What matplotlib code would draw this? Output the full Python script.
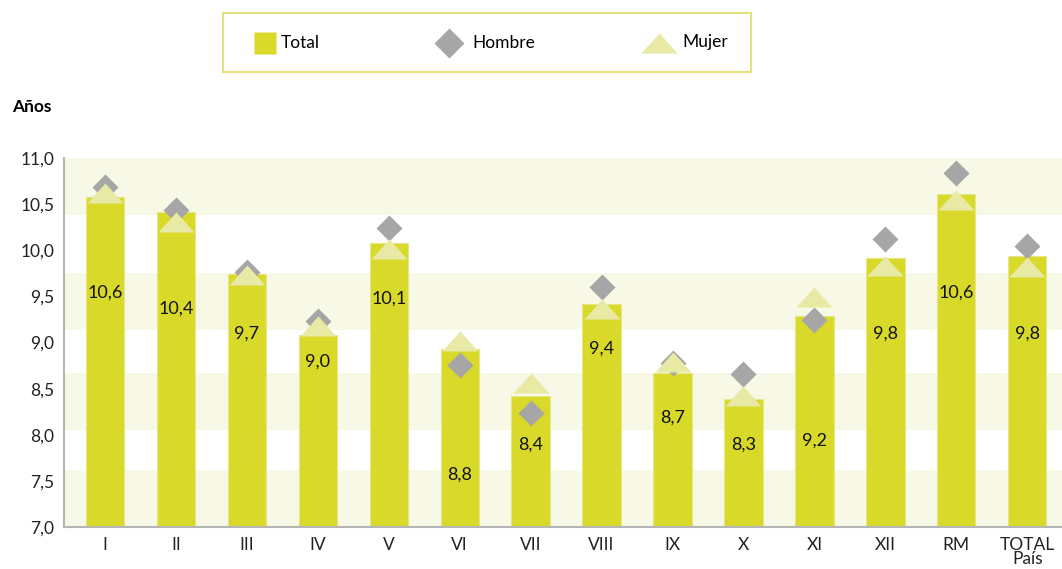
import numpy as np
import matplotlib.pyplot as plt
from matplotlib.lines import Line2D

plt.rcParams['font.family'] = ['Lato', 'DejaVu Sans']

regions = ['I', 'II', 'III', 'IV', 'V', 'VI', 'VII', 'VIII', 'IX', 'X', 'XI', 'XII', 'RM', 'TOTAL\nPaís']
total = [10.58, 10.41, 9.74, 9.08, 10.08, 8.93, 8.42, 9.42, 8.67, 8.39, 9.29, 9.92, 10.61, 9.94]
total_labels = [10.6, 10.4, 9.7, 9.0, 10.1, 8.8, 8.4, 9.4, 8.7, 8.3, 9.2, 9.8, 10.6, 9.8]
hombre = [10.69, 10.44, 9.76, 9.23, 10.24, 8.76, 8.24, 9.60, 8.78, 8.66, 9.24, 10.12, 10.84, 10.05]
mujer = [10.62, 10.31, 9.73, 9.18, 10.01, 9.02, 8.56, 9.36, 8.79, 8.42, 9.49, 9.83, 10.54, 9.82]
yticks = [7.0, 7.5, 8.0, 8.5, 9.0, 9.5, 10.0, 10.5, 11.0]

# where the value text sits inside each bar (layout only)
label_y = [9.54, 9.37, 9.10, 8.79, 9.48, 7.57, 7.89, 8.93, 8.19, 7.89, 7.94, 9.10, 9.54, 9.10]
bands = [(7.0, 7.62), (8.05, 8.67), (9.14, 9.75), (10.38, 11.0)]

bar_col = '#d9d92a'
band_col = '#f7f8e5'
dia_col = '#a6a6a6'
tri_col = '#e8e9a4'
tri_marker = [(-1.8, -1), (1.8, -1), (0, 1)]

fig = plt.figure(figsize=(10.62, 5.69), dpi=100)
ax = fig.add_axes([64 / 1062, 1 - 527 / 569, 1 - 64 / 1062, (527 - 158) / 569])

x = np.arange(len(regions))
for lo, hi in bands:
    ax.axhspan(lo, hi, color=band_col, lw=0, zorder=0)

ax.bar(x, total, width=0.54, bottom=0, color=bar_col, edgecolor='#e6e68a', linewidth=0.8, zorder=2)
ax.plot(x, hombre, ls='none', marker='D', ms=13, color=dia_col, mec='none', zorder=3)
ax.plot(x, mujer, ls='none', marker=tri_marker, ms=26, color=tri_col, mec='none', zorder=4)

for xi, v, ly in zip(x, total_labels, label_y):
    ax.text(xi, ly, f'{v:.1f}'.replace('.', ','), ha='center', va='center', fontsize=13, color='#111111', zorder=5)

ax.set_xlim(-0.578, 13.49)
ax.set_ylim(7, 11)
ax.set_yticks(yticks)
ax.set_yticklabels([f'{t:.1f}'.replace('.', ',') for t in yticks], fontsize=12.5, color='#222222')
ax.set_xticks(x)
ax.set_xticklabels(regions, fontsize=12.5, color='#222222', linespacing=0.85, va='top')
ax.tick_params(length=0, pad=7)
for s in ['top', 'right']:
    ax.spines[s].set_visible(False)
for s in ['left', 'bottom']:
    ax.spines[s].set_color('#b5b5b5')
    ax.spines[s].set_linewidth(1.5)

fig.text(12 / 1062, 1 - 107 / 569, 'Años', fontsize=12.5, fontweight='bold', va='center', ha='left')

# legend box
lg = fig.add_axes([223 / 1062, 1 - 72 / 569, 528 / 1062, 59 / 569])
lg.set_xlim(0, 1)
lg.set_ylim(0, 1)
lg.set_xticks([])
lg.set_yticks([])
for s in lg.spines.values():
    s.set_color('#e2e27a')
    s.set_linewidth(1.5)
lg.plot([0.0786], [0.5], marker='s', ms=16.5, color=bar_col, mec='none', ls='none')
lg.text(0.110, 0.5, 'Total', fontsize=12.5, va='center', ha='left')
lg.plot([0.428], [0.5], marker='D', ms=15.5, color=dia_col, mec='none', ls='none')
lg.text(0.473, 0.5, 'Hombre', fontsize=12.5, va='center', ha='left')
lg.plot([0.826], [0.5], marker=tri_marker, ms=26, color=tri_col, mec='none', ls='none')
lg.text(0.870, 0.5, 'Mujer', fontsize=12.5, va='center', ha='left')

fig.savefig('out.png', dpi=100)
